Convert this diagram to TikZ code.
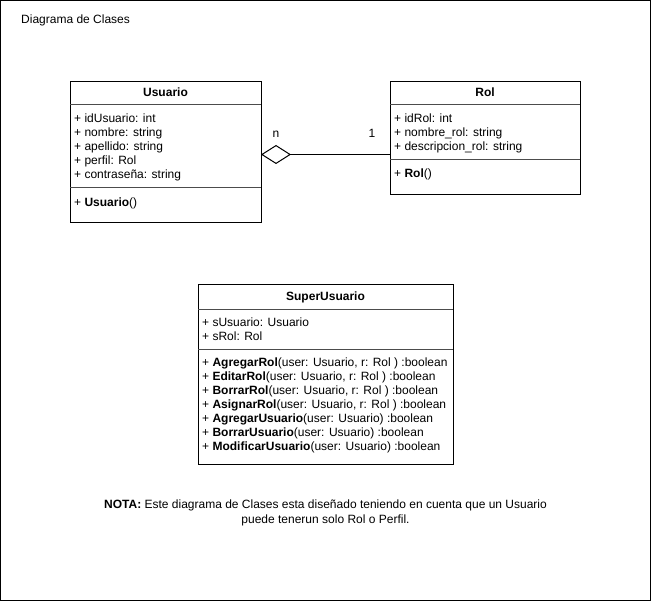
\documentclass[tikz,border=0pt]{standalone}
\usepackage{fontspec}
\setmainfont{Liberation Sans}
\usetikzlibrary{arrows.meta}
\begin{document}
\begin{tikzpicture}[x=1pt,y=-1pt,
  every node/.style={font=\fontsize{12}{14}\selectfont, inner sep=0pt},
  classbox/.style={draw=black, line width=1pt, anchor=north west},
  divider/.style={draw=black!70, line width=1pt},
  txt/.style={anchor=base west},
  ttl/.style={anchor=base, font=\fontsize{12}{14}\selectfont\bfseries}]
\useasboundingbox (0,0) rectangle (652,601);
\draw[line width=1pt] (0.5,0.5) rectangle (650.5,600.5);
\node[txt] (diag) at (21,23.5) {Diagrama de Clases};

% Usuario
\node[classbox, minimum width=191pt, minimum height=141pt] (usuario) at (70,81) {};
\node[ttl] (usuarioT) at (165.5,96.5) {Usuario};
\draw[divider] (70,104.5) -- (261,104.5);
\draw[divider] (70,188) -- (261,188);
\node[txt] (u1) at (74,122.5) {+ idUsuario: int};
\node[txt] (u2) at (74,136.5) {+ nombre: string};
\node[txt] (u3) at (74,150.5) {+ apellido: string};
\node[txt] (u4) at (74,164.5) {+ perfil: Rol};
\node[txt] (u5) at (74,178.5) {+ contraseña: string};
\node[txt] (u6) at (74,206.5) {+ \textbf{Usuario}()};

% Rol
\node[classbox, minimum width=190pt, minimum height=113pt] (rol) at (390,81) {};
\node[ttl] (rolT) at (485,96.5) {Rol};
\draw[divider] (390,104.5) -- (580,104.5);
\draw[divider] (390,159.5) -- (580,159.5);
\node[txt] (r1) at (394,122.5) {+ idRol: int};
\node[txt] (r2) at (394,136.5) {+ nombre\_rol: string};
\node[txt] (r3) at (394,150.5) {+ descripcion\_rol: string};
\node[txt] (r4) at (394,178) {+ \textbf{Rol}()};

% association
\coordinate (aU) at (261,154.5);
\coordinate (aR) at (390,154.5);
\draw[line width=1pt, {Diamond[open, length=30pt, width=19pt]}-] (aU) -- (aR);
\node[anchor=base] (mn) at (276,138) {n};
\node[anchor=base] (m1) at (372,138) {1};

% SuperUsuario
\node[classbox, minimum width=255pt, minimum height=180pt] (super) at (198,284) {};
\node[ttl] (superT) at (325.5,300.5) {SuperUsuario};
\draw[divider] (198,309) -- (453,309);
\draw[divider] (198,349) -- (453,349);
\node[txt] (s1) at (202,326) {+ sUsuario: Usuario};
\node[txt] (s2) at (202,340) {+ sRol: Rol};
\node[txt] (s3) at (202,366.5) {+ \textbf{AgregarRol}(user: Usuario, r: Rol ) :boolean};
\node[txt] (s4) at (202,380.5) {+ \textbf{EditarRol}(user: Usuario, r: Rol ) :boolean};
\node[txt] (s5) at (202,394.5) {+ \textbf{BorrarRol}(user: Usuario, r: Rol ) :boolean};
\node[txt] (s6) at (202,408.5) {+ \textbf{AsignarRol}(user: Usuario, r: Rol ) :boolean};
\node[txt] (s7) at (202,422.5) {+ \textbf{AgregarUsuario}(user: Usuario) :boolean};
\node[txt] (s8) at (202,436.5) {+ \textbf{BorrarUsuario}(user: Usuario) :boolean};
\node[txt] (s9) at (202,450.5) {+ \textbf{ModificarUsuario}(user: Usuario) :boolean};

% note
\node[anchor=base] (nota1) at (325.5,508.5) {\textbf{NOTA:} Este diagrama de Clases esta diseñado teniendo en cuenta que un Usuario};
\node[anchor=base] (nota2) at (325.5,523.5) {puede tenerun solo Rol o Perfil.};
\end{tikzpicture}
\end{document}
